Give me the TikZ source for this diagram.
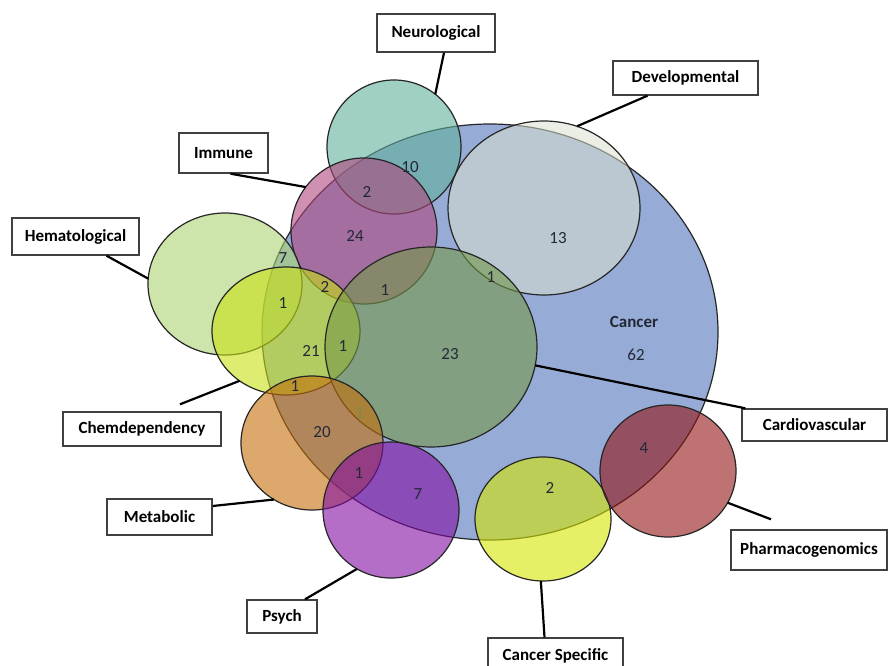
\documentclass[tikz,border=0pt]{standalone}
\usepackage{fontspec}
\setmainfont{Carlito}
\usetikzlibrary{shapes.geometric}
\definecolor{cancerblue}{RGB}{80,117,187}
\definecolor{devgray}{RGB}{218,224,205}
\definecolor{neuroteal}{RGB}{97,177,157}
\definecolor{immunepink}{RGB}{175,70,125}
\definecolor{hemagreen}{RGB}{172,210,113}
\definecolor{chemyellow}{RGB}{200,225,20}
\definecolor{cardiogreen}{RGB}{117,152,73}
\definecolor{metaorange}{RGB}{197,110,10}
\definecolor{psychpurple}{RGB}{130,13,163}
\definecolor{cspecyellow}{RGB}{213,230,0}
\definecolor{pharmared}{RGB}{147,20,20}
\definecolor{numtext}{RGB}{35,40,55}
\definecolor{fadedolive}{RGB}{125,140,70}

\begin{document}
\begin{tikzpicture}[x=1pt, y=-1pt, every node/.style={font=\fontsize{17}{20}\selectfont}]
    \tikzset{
        setnode/.style = {ellipse, draw=black!85, line width=1.2pt, fill opacity=0.6, inner sep=0pt, outer sep=0pt},
        lblbox/.style = {rectangle, draw=black!75, line width=1.4pt, fill=white, font=\fontsize{17}{20}\selectfont\bfseries},
        num/.style = {text=numtext, inner sep=1pt},
        link/.style = {line width=2.2pt, black},
    }
    \useasboundingbox (0,0) rectangle (888,666);

    \node (cancer) [setnode, fill=cancerblue, minimum width=456, minimum height=416] at (490,332) {};
    \node (devel) [setnode, fill=devgray, fill opacity=0.55, minimum width=192, minimum height=174] at (544,208) {};
    \node (neuro) [setnode, fill=neuroteal, minimum width=134, minimum height=134] at (394,147) {};
    \node (immune) [setnode, fill=immunepink, minimum width=146, minimum height=146] at (364,231) {};
    \node (hema) [setnode, fill=hemagreen, minimum width=154, minimum height=142] at (225,284) {};
    \node (chem) [setnode, fill=chemyellow, minimum width=148, minimum height=128] at (286,331) {};
    \node (cardio) [setnode, fill=cardiogreen, minimum width=212, minimum height=200] at (431,347) {};
    \node (meta) [setnode, fill=metaorange, minimum width=142, minimum height=134] at (312,443) {};
    \node (psych) [setnode, fill=psychpurple, minimum width=136, minimum height=136] at (391,510) {};
    \node (cspec) [setnode, fill=cspecyellow, minimum width=136, minimum height=124] at (543,519) {};
    \node (pharma) [setnode, fill=pharmared, minimum width=136, minimum height=132] at (668,471) {};

    \node (n10) [num] at (410,167) {10};
    \node (n2a) [num] at (367,192) {2};
    \node (n24) [num] at (355,236) {24};
    \node (n7a) [num] at (283,258) {7};
    \node (n2b) [num] at (325,287) {2};
    \node (n1a) [num] at (385,290) {1};
    \node (n1b) [num] at (283,303) {1};
    \node (n13) [num] at (558,238) {13};
    \node (n1c) [num] at (491,277) {1};
    \node (cancertxt) [num, font=\fontsize{17}{20}\selectfont\bfseries] at (634,322) {Cancer};
    \node (n62) [num] at (636,355) {62};
    \node (n23) [num] at (450,354) {23};
    \node (n21) [num] at (311,351) {21};
    \node (n1d) [num] at (343,346) {1};
    \node (n1e) [num] at (295,386) {1};
    \node (n1f) [num, text=fadedolive] at (360,413) {1};
    \node (n20) [num] at (322,432) {20};
    \node (n1g) [num] at (359,473) {1};
    \node (n7b) [num] at (418,494) {7};
    \node (n2c) [num] at (550,488) {2};
    \node (n4) [num] at (644,448) {4};

    \node (neurolbl) [lblbox, minimum width=118, minimum height=38] at (436,33) {Neurological};
    \node (devlbl) [lblbox, minimum width=145, minimum height=34] at (685.5,78) {Developmental};
    \node (immlbl) [lblbox, minimum width=89, minimum height=40] at (223.5,153) {Immune};
    \node (hemlbl) [lblbox, minimum width=127, minimum height=37] at (75.5,236.5) {Hematological};
    \node (chemlbl) [lblbox, minimum width=158, minimum height=34] at (142,429) {Chemdependency};
    \node (metlbl) [lblbox, minimum width=105, minimum height=36] at (159.5,517) {Metabolic};
    \node (psylbl) [lblbox, minimum width=70, minimum height=33] at (282,616.5) {Psych};
    \node (cslbl) [lblbox, minimum width=135, minimum height=36] at (555.5,656) {Cancer Specific};
    \node (cardlbl) [lblbox, minimum width=145, minimum height=32] at (814.5,425) {Cardiovascular};
    \node (pharlbl) [lblbox, minimum width=156, minimum height=40] at (809,550) {Pharmacogenomics};

    \draw [link] ([xshift=8]neurolbl.south) -- (neuro.52);
    \draw [link] ([xshift=-38]devlbl.south) -- (devel.68);
    \draw [link] ([xshift=7]immlbl.south) -- (immune.143);
    \draw [link] ([xshift=31]hemlbl.south) -- (hema.176);
    \draw [link] ([xshift=38,yshift=7]chemlbl.north) -- (chem.227);
    \draw [link] ([yshift=11]metlbl.east) -- (meta.236);
    \draw [link] ([xshift=23]psylbl.north) -- (psych.240);
    \draw [link] ([xshift=-11]cslbl.north) -- (cspec.268);
    \draw [link] ([xshift=4]cardlbl.north west) -- (cardio.-10);
    \draw [link] ([xshift=-38,yshift=10]pharlbl.north) -- (pharma.-28);
\end{tikzpicture}
\end{document}
